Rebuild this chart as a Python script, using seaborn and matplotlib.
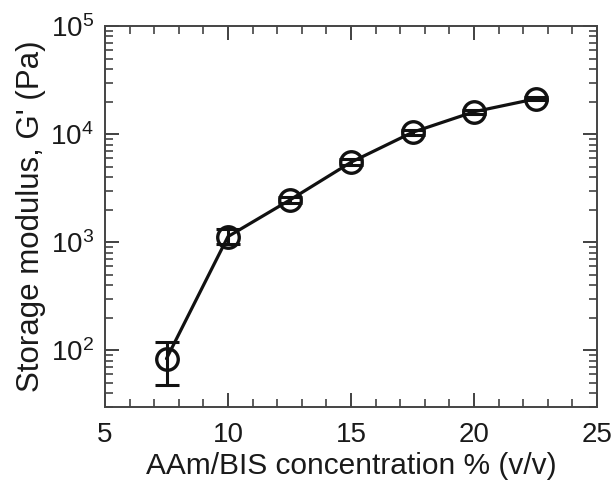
import numpy as np
import pandas as pd
import matplotlib
matplotlib.use("Agg")
import matplotlib.pyplot as plt
import seaborn as sns
from matplotlib.ticker import LogLocator, FixedLocator, MultipleLocator, NullFormatter

concentration = [7.5, 10, 12.5, 15, 17.5, 20, 22.5]
modulus = [84, 1130, 2450, 5500, 10400, 16100, 21200]
err_low = [48, 960, 2300, 5200, 9900, 15500, 20500]
err_high = [119, 1320, 2600, 5870, 10900, 16700, 21900]

x_label = "AAm/BIS concentration % (v/v)"
y_label = "Storage modulus, G' (Pa)"
x_ticks = [5, 10, 15, 20, 25]

sns.set_style("ticks")
plt.rcParams["font.family"] = ["Liberation Sans", "DejaVu Sans"]
plt.rcParams["mathtext.fontset"] = "custom"
plt.rcParams["mathtext.rm"] = "Liberation Sans"
plt.rcParams["mathtext.it"] = "Liberation Sans:italic"
plt.rcParams["mathtext.bf"] = "Liberation Sans:bold"

df = pd.DataFrame({"x": concentration, "y": modulus})

fig = plt.figure(figsize=(6.16, 4.88), dpi=100)
ax = fig.add_axes([105 / 616, 1 - 407 / 488, (597 - 105) / 616, (407 - 26) / 488])

ax.set_yscale("log")
sns.lineplot(data=df, x="x", y="y", ax=ax, color="#111111", linewidth=2.3,
             marker="o", markersize=15.5, markerfacecolor="none",
             markeredgecolor="#111111", markeredgewidth=2.4, zorder=3)

y = np.array(modulus, dtype=float)
yerr = np.vstack([y - np.array(err_low), np.array(err_high) - y])
ax.errorbar(concentration, modulus, yerr=yerr, fmt="none", ecolor="#111111",
            elinewidth=2.2, capsize=8.5, capthick=2.2, zorder=4)

ax.set_xlim(5, 25)
ax.set_ylim(30, 1e5)
ax.xaxis.set_major_locator(FixedLocator(x_ticks))
ax.xaxis.set_minor_locator(MultipleLocator(1))
ax.yaxis.set_major_locator(LogLocator(base=10, numticks=10))
ax.yaxis.set_minor_locator(LogLocator(base=10, subs=np.arange(2, 10), numticks=20))
ax.yaxis.set_minor_formatter(NullFormatter())

ax.tick_params(which="both", direction="in", top=True, right=True,
               color="#333333", labelsize=20, labelcolor="#1a1a1a")
ax.tick_params(which="major", length=10, width=1.3)
ax.tick_params(axis="x", which="major", pad=11)
ax.tick_params(axis="y", which="major", pad=8)
ax.tick_params(which="minor", length=6, width=1.1)

for s in ax.spines.values():
    s.set_linewidth(1.4)
    s.set_color("#444444")

ax.set_xlabel(x_label, fontsize=21.5, color="#1a1a1a", labelpad=3)
ax.set_ylabel(y_label, fontsize=22.5, color="#1a1a1a", labelpad=3)

fig.savefig("out.png", dpi=100, facecolor="white")
